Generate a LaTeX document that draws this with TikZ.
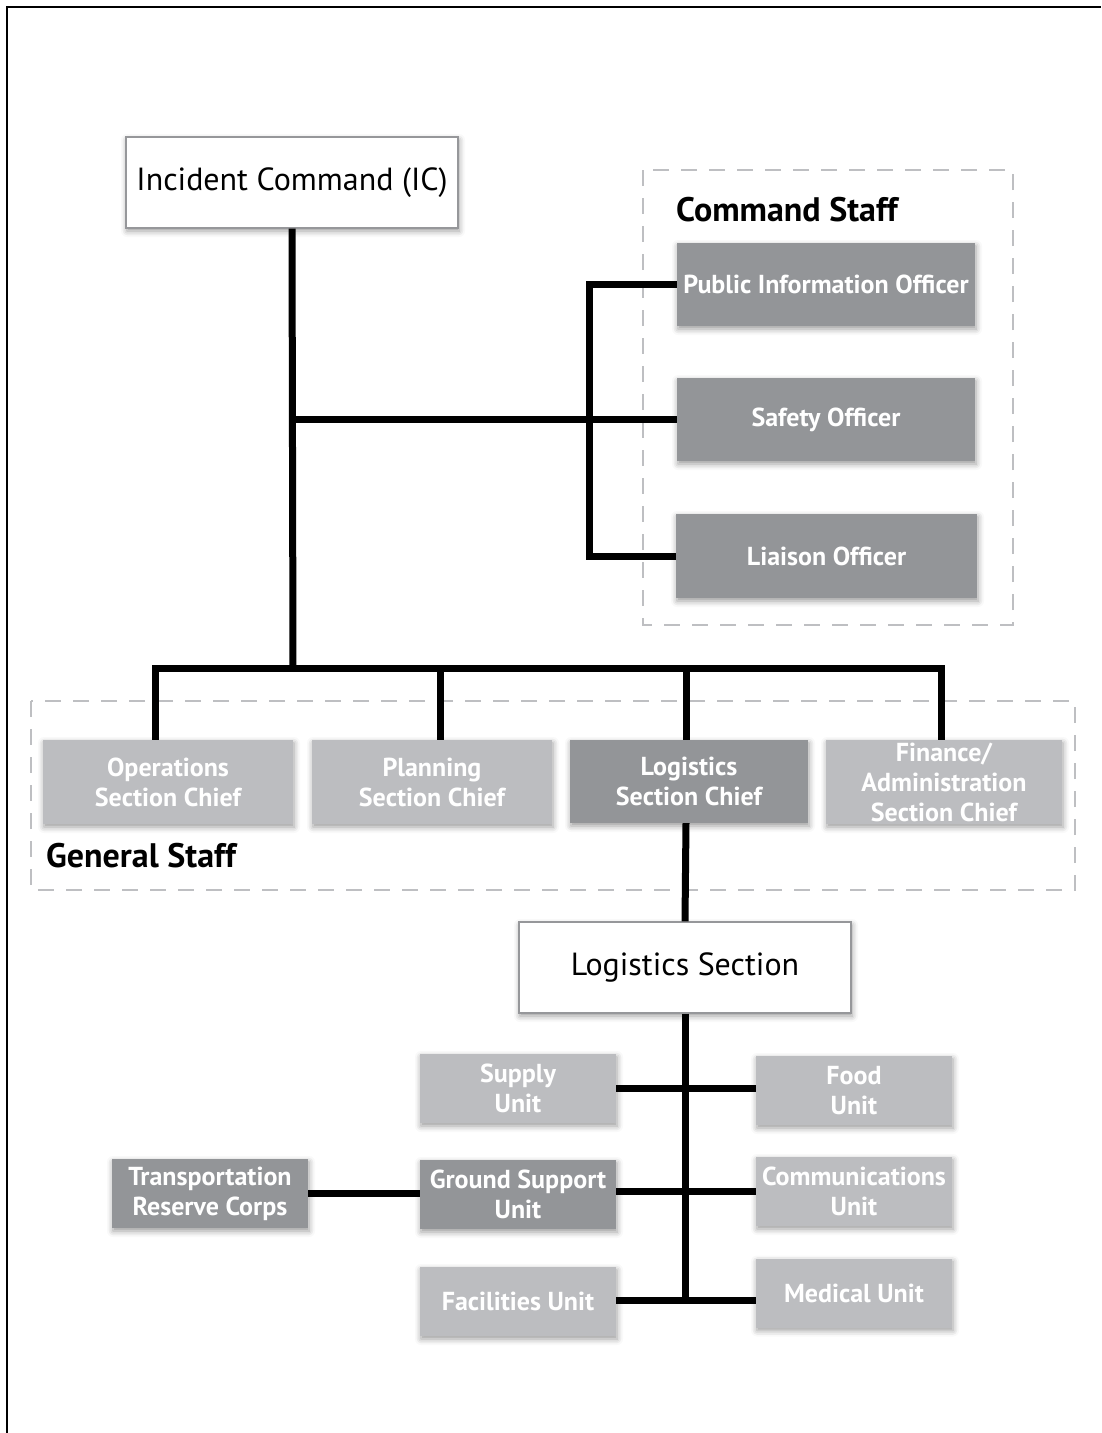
\documentclass[tikz,border=0pt]{standalone}
\usepackage{fontspec}
\setmainfont{PT Sans}
\usetikzlibrary{shadows.blur}

\definecolor{boxdark}{RGB}{147,149,152}
\definecolor{boxlight}{RGB}{188,189,192}
\definecolor{dashgray}{RGB}{190,191,194}
\definecolor{edgegray}{RGB}{150,151,154}

\tikzset{
  softshadow/.style={blur shadow={shadow xshift=1pt, shadow yshift=-3pt,
      shadow blur radius=6pt, shadow opacity=40}},
  card/.style={rectangle, inner sep=0pt, align=center, text=white,
      font=\fontsize{26}{30}\selectfont\bfseries, softshadow},
  darkcard/.style={card, fill=boxdark},
  lightcard/.style={card, fill=boxlight},
  headcard/.style={rectangle, inner sep=0pt, fill=white, draw=edgegray,
      line width=1.2pt, text=black, font=\fontsize{32}{36}\selectfont, softshadow},
  link/.style={line width=7pt, black, line join=miter},
  groupframe/.style={draw=dashgray, line width=2.8pt, dash pattern=on 16pt off 12pt},
  grouptitle/.style={anchor=base west, inner sep=0pt,
      font=\fontsize{34}{38}\selectfont\bfseries},
}

\begin{document}
\begin{tikzpicture}[x=1pt, y=-1pt]
  \useasboundingbox (0,0) rectangle (1101,1433);

  % outer frame (top and left edges)
  \draw[line width=2.5pt] (7,1433) -- (7,7) -- (1101,7);

  % dashed groups
  \draw[groupframe] (643,170) rectangle (1013,625);
  \draw[groupframe] (31,701) rectangle (1075,890);
  \node[grouptitle] (cstitle) at (676,221) {Command Staff};
  \node[grouptitle] (gstitle) at (46,867) {General Staff};

  % top of the command chain
  \node[headcard, minimum width=332pt, minimum height=91pt] (ic) at (292,182.5) {Incident Command (IC)};

  % command staff
  \node[darkcard, minimum width=298pt, minimum height=83pt] (pio) at (826,284.5) {Public Information Officer};
  \node[darkcard, minimum width=298pt, minimum height=83pt] (safety) at (826,419.5) {Safety Officer};
  \node[darkcard, minimum width=301pt, minimum height=84pt] (liaison) at (826.5,556) {Liaison Officer};

  % general staff
  \node[lightcard, minimum width=250pt, minimum height=84pt] (ops) at (168,782) {Operations\\Section Chief};
  \node[lightcard, minimum width=240pt, minimum height=84pt] (plan) at (432,782) {Planning\\Section Chief};
  \node[darkcard, minimum width=238pt, minimum height=83pt] (logc) at (689,781.5) {Logistics\\Section Chief};
  \node[lightcard, minimum width=236pt, minimum height=84pt] (fin) at (944,782) {Finance/\\Administration\\Section Chief};

  % logistics section
  \node[headcard, minimum width=332pt, minimum height=91pt] (logsec) at (685,967.5) {Logistics Section};

  \node[lightcard, minimum width=196pt, minimum height=69pt] (supply) at (518,1088.5) {Supply\\Unit};
  \node[darkcard, minimum width=196pt, minimum height=69pt] (ground) at (518,1194.5) {Ground Support\\Unit};
  \node[lightcard, minimum width=196pt, minimum height=69pt] (facil) at (518,1301.5) {Facilities Unit};
  \node[lightcard, minimum width=196pt, minimum height=69pt] (food) at (854,1090.5) {Food\\Unit};
  \node[lightcard, minimum width=196pt, minimum height=69pt] (comms) at (854,1191.5) {Communications\\Unit};
  \node[lightcard, minimum width=196pt, minimum height=69pt] (medic) at (854,1293) {Medical Unit};
  \node[darkcard, minimum width=196pt, minimum height=69pt] (trans) at (210,1193.5) {Transportation\\Reserve Corps};

  % connectors: command chain
  \coordinate (gbar) at (293,668);
  \draw[link] (ic.south) -- (gbar);
  \draw[link] (ic.south |- safety.west) -- (safety.west);
  \draw[link] (pio.west) -- ++(-87,0) |- (liaison.west);

  % connectors: general staff
  \draw[link] ([xshift=-13pt]ops.north) |- ([xshift=-3pt]fin.north |- gbar) -- ([xshift=-3pt]fin.north);
  \draw[link] ([xshift=8pt]plan.north) -- ([xshift=8pt]plan.north |- gbar);
  \draw[link] ([xshift=-3pt]logc.north) -- ([xshift=-3pt]logc.north |- gbar);
  \draw[link] ([xshift=-3pt]logc.south) -- (logsec.north);

  % connectors: logistics units
  \draw[link] (logsec.south) -- (logsec.south |- 0,1300);
  \draw[link] (supply.east) -- (food.west |- supply.east);
  \draw[link] (ground.east |- comms.west) -- (comms.west);
  \draw[link] (facil.east |- 0,1300) -- (medic.west |- 0,1300);
  \draw[link] (trans.east) -- (ground.west |- trans.east);
\end{tikzpicture}
\end{document}
